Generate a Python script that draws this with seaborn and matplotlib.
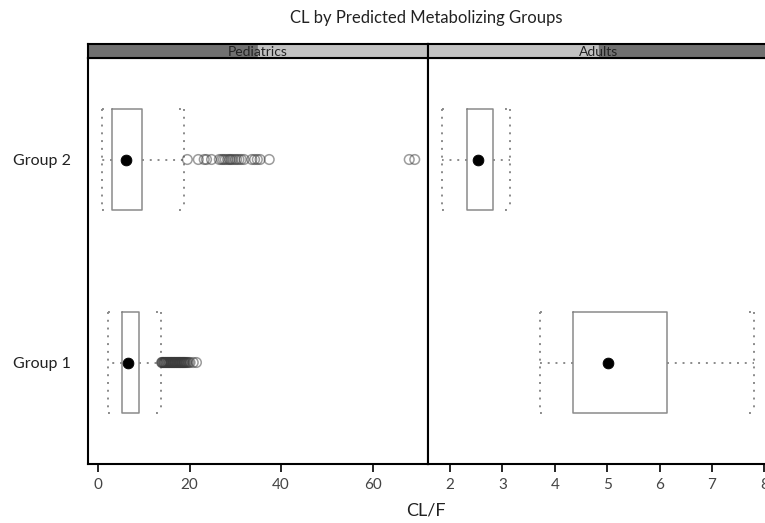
import numpy as np
import pandas as pd
import matplotlib.pyplot as plt
import seaborn as sns

sns.set_style('white')
plt.rcParams['font.family'] = ['Lato', 'DejaVu Sans']

groups = ['Group 2', 'Group 1']
populations = ['Pediatrics', 'Adults']

# lower whisker, Q1, median, Q3, upper whisker
ped_g2 = [0.8, 3.1, 6.0, 9.5, 18.8]
ped_g1 = [2.2, 5.3, 6.6, 9.0, 13.8]
adu_g2 = [1.84, 2.32, 2.53, 2.83, 3.15]
adu_g1 = [3.72, 4.34, 5.01, 6.15, 7.81]

# outliers (pediatrics only)
ped_g2_out = [19.5, 21.9, 23.2, 23.7, 24.8, 26.5, 27.0, 27.4, 27.8, 28.3, 28.7,
              29.0, 29.4, 29.9, 30.3, 30.8, 31.3, 31.9, 33.6, 34.2, 34.8, 35.4,
              37.4, 68.0, 69.2]
ped_g1_out = [13.9, 14.0, 14.1, 14.3, 14.4, 14.5, 14.7, 14.8, 14.9, 15.1, 15.2,
              15.3, 15.5, 15.6, 15.7, 15.9, 16.0, 16.1, 16.3, 16.4, 16.5, 16.7,
              16.8, 16.9, 17.1, 17.2, 17.3, 17.5, 17.6, 17.7, 17.9, 18.0, 18.1,
              18.3, 18.4, 18.5, 18.7, 18.8, 18.9, 19.1, 19.3, 19.5, 19.8, 20.1,
              20.8, 21.5]

xlims = {'Pediatrics': (-2.2, 72.1), 'Adults': (1.58, 8.09)}
xticks = {'Pediatrics': [0, 20, 40, 60], 'Adults': [2, 3, 4, 5, 6, 7, 8]}

boxes = {'Pediatrics': (ped_g2, ped_g1), 'Adults': (adu_g2, adu_g1)}
outliers = {'Pediatrics': (ped_g2_out, ped_g1_out), 'Adults': ([], [])}

W, H = 765, 523
fig = plt.figure(figsize=(W / 100, H / 100), dpi=100)

panel_px = {'Pediatrics': (88, 428), 'Adults': (428, 769)}
top_px, bot_px, strip_px = 58, 464, 44

grey = '#8a8a8a'
dots = (0, (1, 3))
for i, pop in enumerate(populations):
    x0, x1 = panel_px[pop]
    ax = fig.add_axes([x0 / W, 1 - bot_px / H, (x1 - x0) / W, (bot_px - top_px) / H])
    g2, g1 = boxes[pop]
    df = pd.DataFrame({'group': ['Group 2'] * len(g2) + ['Group 1'] * len(g1),
                       'clf': g2 + g1})
    sns.boxplot(data=df, x='clf', y='group', order=groups, orient='y', ax=ax,
                whis=np.inf, width=0.5, fill=False, color=grey, linewidth=1.1,
                showcaps=False,
                whiskerprops={'linestyle': dots, 'linewidth': 1.4},
                medianprops={'linewidth': 0})

    # length of the little bracket ends, ~5 px in data units
    lo, hi = xlims[pop]
    tick = 5 * (hi - lo) / (x1 - x0)
    for j, vals in enumerate((g2, g1)):
        # dotted bracket caps spanning the box height
        ax.vlines([vals[0], vals[-1]], j - 0.25, j + 0.25, colors=grey,
                  linestyles=dots, linewidth=1.4)
        ax.hlines([j - 0.25, j + 0.25], vals[0], vals[0] + tick, colors=grey,
                  linestyles=dots, linewidth=1.4)
        ax.hlines([j - 0.25, j + 0.25], vals[-1] - tick, vals[-1], colors=grey,
                  linestyles=dots, linewidth=1.4)
        out = outliers[pop][j]
        if out:
            sns.scatterplot(x=out, y=[j] * len(out), ax=ax, s=48,
                            facecolor='none', edgecolor='#3a3a3a', alpha=0.5,
                            linewidth=1.1, zorder=3, legend=False)
        sns.scatterplot(x=[vals[2]], y=[j], ax=ax, s=60, color='black',
                        edgecolor='black', zorder=4, legend=False)

    ax.set_xlim(*xlims[pop])
    ax.set_ylim(1.5, -0.5)
    ax.set_xticks(xticks[pop])
    ax.set_xlabel('')
    ax.set_ylabel('')
    ax.tick_params(axis='x', bottom=True, length=6, width=1.2, color='black',
                   labelsize=11, labelcolor='#444444', pad=4)
    if i == 0:
        ax.set_yticks([0, 1])
        ax.set_yticklabels(groups)
        ax.tick_params(axis='y', length=0, labelsize=11.5, labelcolor='#222222',
                       pad=12)
    else:
        ax.set_yticks([])
    for sp in ax.spines.values():
        sp.set_color('black')
        sp.set_linewidth(1.5)
        sp.set_visible(True)

    # strip
    sax = fig.add_axes([x0 / W, 1 - top_px / H, (x1 - x0) / W, (top_px - strip_px) / H])
    sax.set_xlim(0, 1)
    sax.set_ylim(0, 1)
    if i == 0:
        sax.axvspan(0, 0.5, color='#707070')
        sax.axvspan(0.5, 1, color='#c2c2c2')
    else:
        sax.axvspan(0, 0.5, color='#c2c2c2')
        sax.axvspan(0.5, 1, color='#707070')
    sax.text(0.5, 0.42, pop, ha='center', va='center', fontsize=10, color='#222222')
    sax.set_xticks([])
    sax.set_yticks([])
    for sp in sax.spines.values():
        sp.set_color('black')
        sp.set_linewidth(1.5)

fig.text(426 / W, 1 - 18 / H, 'CL by Predicted Metabolizing Groups',
         ha='center', va='center', fontsize=12, color='#222222')
fig.text(426 / W, 1 - 511 / H, 'CL/F', ha='center', va='center',
         fontsize=13, color='#222222')

fig.savefig('out.png', dpi=100)
